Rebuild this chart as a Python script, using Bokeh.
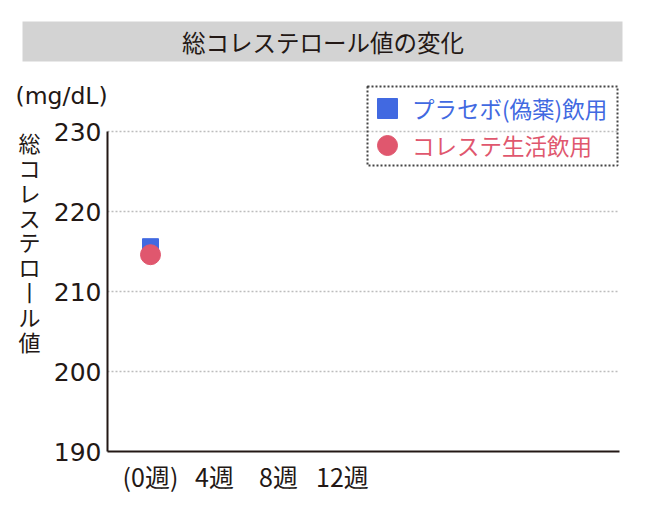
from bokeh.plotting import figure
from bokeh.models import (Range1d, FixedTicker, Label, BoxAnnotation, Legend, LegendItem)
from bokeh.embed import file_html
from bokeh.resources import INLINE

# ---- data ----
weeks = [0]
placebo = [215.6]
product = [214.6]
x_ticks = [0, 4, 8, 12]
x_tick_labels = ["(0週)", "4週", "8週", "12週"]
y_ticks = [190, 200, 210, 220, 230]
grid_ticks = [200, 210, 220, 230]
title_text = "総コレステロール値の変化"
unit_text = "(mg/dL)"
y_title = "総コレステロ丨ル値"
series_names = ["プラセボ(偽薬)飲用", "コレステ生活飲用"]

BLUE = "#4169E1"
PINK = "#E0576E"
DARK = "#231815"
JP = "Noto Sans CJK JP"

# ---- layout helpers (picture pixel -> canvas) ----
W, H = 634, 494
OX, OY = 0, 0
X0_PX, PX_PER_WEEK = 150.0, 16.0       # pixel of week 0, pixels per week
Y190_PX, PX_PER_UNIT = 451.0, 8.0       # pixel of 190 mg/dL, pixels per unit


def sx(px):
    return px - OX


def sy(py):
    return H - (py - OY)


x_start = (OX - X0_PX) / PX_PER_WEEK
x_end = (OX + W - X0_PX) / PX_PER_WEEK
y_end = 190 + (Y190_PX - OY) / PX_PER_UNIT
y_start = 190 + (Y190_PX - OY - H) / PX_PER_UNIT
axis_left = (107 - X0_PX) / PX_PER_WEEK
axis_right = (619 - X0_PX) / PX_PER_WEEK

p = figure(width=W, height=H, x_range=Range1d(x_start, x_end), y_range=Range1d(y_start, y_end),
           output_backend="svg", toolbar_location=None, title=None,
           min_border_left=0, min_border_right=0, min_border_top=0, min_border_bottom=0)
p.outline_line_color = None
p.background_fill_color = "white"
p.border_fill_color = "white"
p.xgrid.visible = False
p.ygrid.visible = False

# axes (drawn at fixed locations inside the frame)
xa = p.xaxis[0]
xa.fixed_location = min(y_ticks)
xa.bounds = (axis_left, axis_right)
xa.ticker = FixedTicker(ticks=x_ticks)
xa.major_label_overrides = {t: l for t, l in zip(x_ticks, x_tick_labels)}
xa.major_tick_in = 0
xa.major_tick_out = 0
xa.minor_tick_line_color = None
xa.axis_line_color = DARK
xa.axis_line_width = 2
xa.major_label_text_font = JP
xa.major_label_text_font_size = "25px"
xa.major_label_text_color = DARK
xa.major_label_standoff = 6

ya = p.yaxis[0]
ya.fixed_location = axis_left
ya.bounds = (min(y_ticks), max(y_ticks))
ya.ticker = FixedTicker(ticks=y_ticks)
ya.major_tick_in = 0
ya.major_tick_out = 0
ya.minor_tick_line_color = None
ya.axis_line_color = DARK
ya.axis_line_width = 2
ya.major_label_text_font = "DejaVu Sans"
ya.major_label_text_font_size = "25px"
ya.major_label_text_color = DARK
ya.major_label_standoff = 6

# horizontal dotted grid lines
p.segment(x0=[axis_left] * len(grid_ticks), x1=[axis_right] * len(grid_ticks),
          y0=grid_ticks, y1=grid_ticks, line_color="#bdbdbd", line_width=1.5, line_dash="2 2")

# data
r_sq = p.scatter(weeks, placebo, marker="square", size=16, color=BLUE)
r_ci = p.scatter(weeks, product, marker="circle", size=20, color=PINK)

# title bar
p.add_layout(BoxAnnotation(left=sx(22), right=sx(622), bottom=sy(61), top=sy(21),
                           left_units="screen", right_units="screen",
                           bottom_units="screen", top_units="screen",
                           fill_color="#d3d3d3", fill_alpha=1, line_color=None))
p.add_layout(Label(x=sx(322.5), y=sy(41), x_units="screen", y_units="screen", text=title_text,
                   text_align="center", text_baseline="middle", text_font=JP,
                   text_font_size="23.5px", text_color=DARK))

# unit and y title
p.add_layout(Label(x=sx(15), y=sy(95), x_units="screen", y_units="screen", text=unit_text,
                   text_align="left", text_baseline="middle", text_font="DejaVu Sans",
                   text_font_size="23.5px", text_color=DARK))
p.add_layout(Label(x=sx(29), y=sy(241), x_units="screen", y_units="screen", text="\n".join(y_title),
                   text_align="center", text_baseline="middle", text_font=JP,
                   text_font_size="22px", text_line_height=0.777, text_color=DARK))

# legend box
p.add_layout(BoxAnnotation(left=sx(367), right=sx(617), bottom=sy(165), top=sy(86),
                           left_units="screen", right_units="screen",
                           bottom_units="screen", top_units="screen",
                           fill_alpha=0, line_color="#444444", line_alpha=1,
                           line_width=2, line_dash="2 2"))

G = 50
for name, rend, col, cy in [(series_names[0], r_sq, BLUE, 108), (series_names[1], r_ci, PINK, 144.5)]:
    lg = Legend(items=[LegendItem(label=name, renderers=[rend])],
                location=(round(sx(386.5) - G / 2), round(sy(cy) - G / 2)),
                glyph_width=G, glyph_height=G, label_standoff=0, padding=0, margin=0,
                spacing=0, border_line_color=None, background_fill_alpha=0,
                label_text_font=JP, label_text_font_size="22.5px", label_text_color=col)
    p.add_layout(lg)

open("out.html", "w").write(file_html(p, INLINE))
